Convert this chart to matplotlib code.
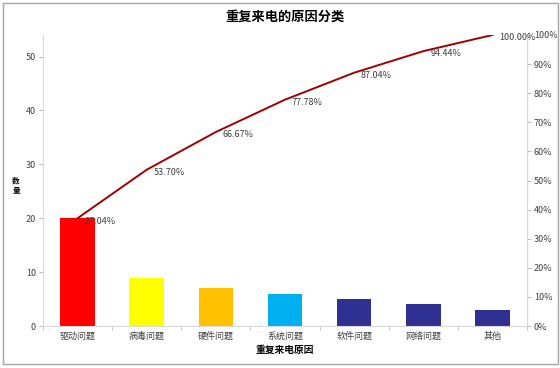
import matplotlib
matplotlib.use("Agg")
import matplotlib.pyplot as plt
from matplotlib.patches import Rectangle
from matplotlib.ticker import PercentFormatter, FixedLocator

plt.rcParams['font.family'] = ['Noto Sans CJK SC', 'DejaVu Sans']

# data
categories = ['驱动问题', '病毒问题', '硬件问题', '系统问题', '软件问题', '网络问题', '其他']
counts = [20, 9, 7, 6, 5, 4, 3]
colors = ['#FF0000', '#FFFF00', '#FFC000', '#00B0F0', '#2E3192', '#2E3192', '#2E3192']

total = sum(counts)
cum = []
s = 0
for c in counts:
    s += c
    cum.append(s / total)

fig = plt.figure(figsize=(5.6, 3.68), dpi=100)
ax = fig.add_axes([43 / 560, 1 - 326 / 368, (527 - 43) / 560, (326 - 35) / 368])
x = list(range(len(categories)))
ax.bar(x, counts, width=0.5, color=colors, zorder=2)
ax.set_xlim(-0.5, len(categories) - 0.5)
ax.set_ylim(0, total)
ax.set_yticks([0, 10, 20, 30, 40, 50])
ax.set_xticks(x)
ax.set_xticklabels(categories, fontsize=6.5, color='#404040')
ax.xaxis.set_minor_locator(FixedLocator([i + 0.5 for i in range(-1, len(categories))]))
ax.tick_params(axis='x', which='major', length=0, pad=4)
ax.tick_params(axis='x', which='minor', length=3, color='#BFBFBF')
ax.tick_params(axis='y', labelsize=6.5, labelcolor='#404040', length=3, color='#BFBFBF', pad=2)
for side in ['top']:
    ax.spines[side].set_visible(False)
for side in ['left', 'bottom', 'right']:
    ax.spines[side].set_color('#D9D9D9')
ax.set_xlabel('重复来电原因', fontsize=7, fontweight='bold', labelpad=3)

ax2 = ax.twinx()
ax2.plot(x, cum, color='#A00000', linewidth=1.4, zorder=3)
ax2.set_ylim(0, 1.0)
ax2.set_yticks([i / 10 for i in range(11)])
ax2.yaxis.set_major_formatter(PercentFormatter(1.0, decimals=0))
ax2.tick_params(axis='y', labelsize=6.5, labelcolor='#404040', length=3, color='#BFBFBF', pad=2)
ax2.spines['top'].set_visible(False)
ax2.spines['right'].set_color('#D9D9D9')
ax2.spines['left'].set_visible(False)
ax2.spines['bottom'].set_visible(False)
for xi, v in zip(x, cum):
    ax2.annotate(f'{v * 100:.2f}%', (xi, v), xytext=(5, -2), textcoords='offset points',
                 ha='left', va='center', fontsize=6.5, color='#404040')

fig.text(16 / 560, 1 - 185 / 368, '数\n量', fontsize=5.5, fontweight='bold',
         ha='center', va='center', linespacing=1.0)
fig.text(285 / 560, 1 - 17 / 368, '重复来电的原因分类', fontsize=9.5, fontweight='bold',
         ha='center', va='center')
fig.patches.append(Rectangle((3 / 560, 1 - 364 / 368), 555 / 560, 361 / 368,
                             transform=fig.transFigure, fill=False,
                             edgecolor='#A6A6A6', linewidth=1.0))

fig.savefig('out.png', dpi=100)
